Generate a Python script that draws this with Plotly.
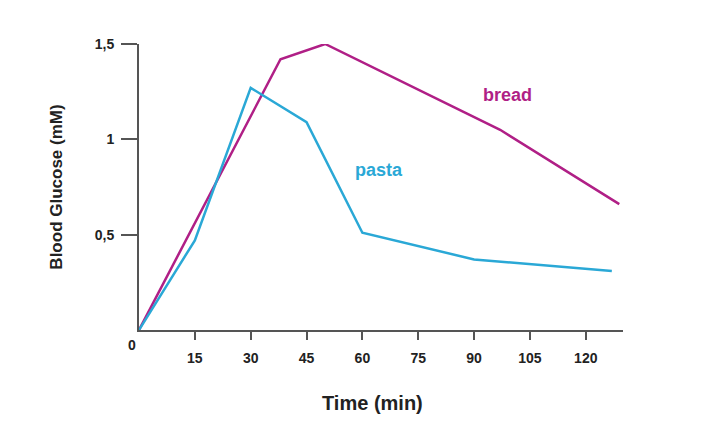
import plotly.graph_objects as go

# Blood glucose response after eating
pasta_time = [0, 15, 30, 45, 60, 90, 127]
pasta_glucose = [0, 0.47, 1.27, 1.09, 0.51, 0.37, 0.31]

bread_time = [0, 38, 50, 97, 129]
bread_glucose = [0, 1.42, 1.50, 1.05, 0.66]

x_ticks = [15, 30, 45, 60, 75, 90, 105, 120]
y_ticks = [0.5, 1, 1.5]

BREAD = "#B01F86"
PASTA = "#2AA8D6"
AXIS = "#555555"
FONT = "Liberation Sans"

fig = go.Figure()

fig.add_trace(go.Scatter(
    x=bread_time, y=bread_glucose, mode="lines", name="bread",
    line=dict(color=BREAD, width=2.5),
))
fig.add_trace(go.Scatter(
    x=pasta_time, y=pasta_glucose, mode="lines", name="pasta",
    line=dict(color=PASTA, width=2.5),
))

# direct labels on the curves
fig.add_annotation(x=99, y=1.23, text="<b>bread</b>", showarrow=False,
                   font=dict(family=FONT, size=18, color=BREAD))
fig.add_annotation(x=64.5, y=0.84, text="<b>pasta</b>", showarrow=False,
                   font=dict(family=FONT, size=18, color=PASTA))
# origin label
fig.add_annotation(x=0, y=0, text="<b>0</b>", showarrow=False,
                   xshift=-7, yshift=-15,
                   font=dict(family=FONT, size=14, color="#222"))
# x axis title, sits a bit left of the plot centre in the original
fig.add_annotation(x=0.482, y=-0.255, xref="paper", yref="paper",
                   text="<b>Time (min)</b>", showarrow=False,
                   xanchor="center", yanchor="middle",
                   font=dict(family=FONT, size=20, color="#222"))

fig.update_layout(
    width=720, height=440,
    margin=dict(l=131, r=105, t=36, b=118),
    plot_bgcolor="white", paper_bgcolor="white",
    showlegend=False,
    separators=",.",
    font=dict(family=FONT, color="#222"),
    xaxis=dict(
        range=[0, 130], tickvals=x_ticks,
        showgrid=False, zeroline=False,
        showline=True, linecolor=AXIS, linewidth=2,
        ticks="outside", ticklen=8, tickwidth=2, tickcolor=AXIS,
        ticklabelstandoff=6,
        tickfont=dict(family=FONT, size=14, weight="bold"),
    ),
    yaxis=dict(
        range=[0, 1.5], tickvals=y_ticks,
        showgrid=False, zeroline=False,
        showline=True, linecolor=AXIS, linewidth=2,
        ticks="outside", ticklen=16, tickwidth=2, tickcolor=AXIS,
        ticklabelstandoff=4,
        tickfont=dict(family=FONT, size=14, weight="bold"),
        title=dict(text="<b>Blood Glucose (mM)</b>", standoff=28,
                   font=dict(family=FONT, size=17)),
    ),
)

fig.write_html("out.html")
